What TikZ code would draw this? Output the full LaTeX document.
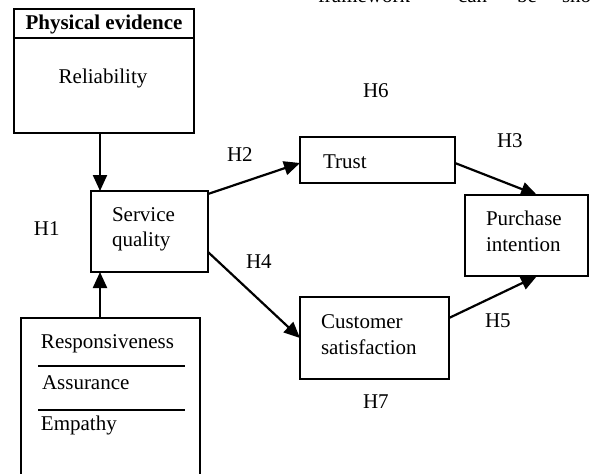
\documentclass[tikz,border=0pt]{standalone}
\usepackage{fontspec}
\setmainfont{Liberation Serif}
\usetikzlibrary{arrows.meta}
\begin{document}
\begin{tikzpicture}[x=1pt,y=-1pt,
  box/.style={draw=black,line width=2pt,outer sep=0pt,inner sep=0pt},
  txt/.style={anchor=base west,inner sep=0pt,outer sep=0pt,font=\fontsize{21}{25}\selectfont},
  ctxt/.style={anchor=base,inner sep=0pt,outer sep=0pt,font=\fontsize{21}{25}\selectfont},
  conn/.style={line width=2.2pt,-{Triangle[length=16pt,width=14pt]}},
  rule/.style={line width=2pt}]
\useasboundingbox (0,0) rectangle (590,474);
% top clipped running text
\node[txt] (run1) at (318,2) {framework};
\node[txt] (run2) at (458,2) {can};
\node[txt] (run3) at (517,2) {be};
\node[txt] (run4) at (562,2) {shown};
% boxes
\node[box,minimum width=180pt,minimum height=124pt] (pe) at (104,71) {};
\node[box,minimum width=117pt,minimum height=81pt] (sq) at (149.5,231.5) {};
\node[box,minimum width=179pt,minimum height=182pt] (bot) at (110.5,409) {};
\node[box,minimum width=155pt,minimum height=46pt] (trust) at (377.5,160) {};
\node[box,minimum width=123pt,minimum height=81pt] (pi) at (526.5,235.5) {};
\node[box,minimum width=149pt,minimum height=82pt] (cs) at (374.5,338) {};
% physical evidence box contents
\draw[rule] (pe.west |- 0,38) -- (pe.east |- 0,38);
\node[ctxt,font=\fontsize{21}{25}\selectfont\bfseries] (pet) at (104,29) {Physical evidence};
\node[ctxt] (rel) at (103,83) {Reliability};
% bottom box contents
\node[txt] (resp) at (41,348) {Responsiveness};
\draw[rule] (38,366) coordinate (l1a) -- (185,366) coordinate (l1b);
\node[txt] (ass) at (42,389) {Assurance};
\draw[rule] (38,410) coordinate (l2a) -- (185,410) coordinate (l2b);
\node[txt] (emp) at (41,430) {Empathy};
% other box texts
\node[txt] (sq1) at (112,221) {Service};
\node[txt] (sq2) at (112,246) {quality};
\node[txt] (tr) at (323,168) {Trust};
\node[txt] (pi1) at (486,225) {Purchase};
\node[txt] (pi2) at (486,251) {intention};
\node[txt] (cs1) at (321,328) {Customer};
\node[txt] (cs2) at (321,354) {satisfaction};
% hypothesis labels
\node[txt] (h1) at (34,235) {H1};
\node[txt] (h2) at (227,161) {H2};
\node[txt] (h3) at (497,147) {H3};
\node[txt] (h4) at (246,268) {H4};
\node[txt] (h5) at (485,327) {H5};
\node[txt] (h6) at (363,97) {H6};
\node[txt] (h7) at (363,408) {H7};
% connectors
\draw[conn] ([xshift=-4pt]pe.south) -- ([xshift=9pt]sq.north west);
\draw[conn] ([xshift=79pt]bot.north west) -- ([xshift=9pt]sq.south west);
\draw[conn] ([yshift=-3pt]sq.north east) -- ([yshift=-26pt]trust.north west);
\draw[conn] ([yshift=-26pt]trust.north east) -- ([xshift=72pt]pi.north west);
\draw[conn] ([yshift=20pt]sq.south east) -- (cs.west);
\draw[conn] ([yshift=-21pt]cs.north east) -- ([xshift=72pt]pi.south west);
\end{tikzpicture}
\end{document}
